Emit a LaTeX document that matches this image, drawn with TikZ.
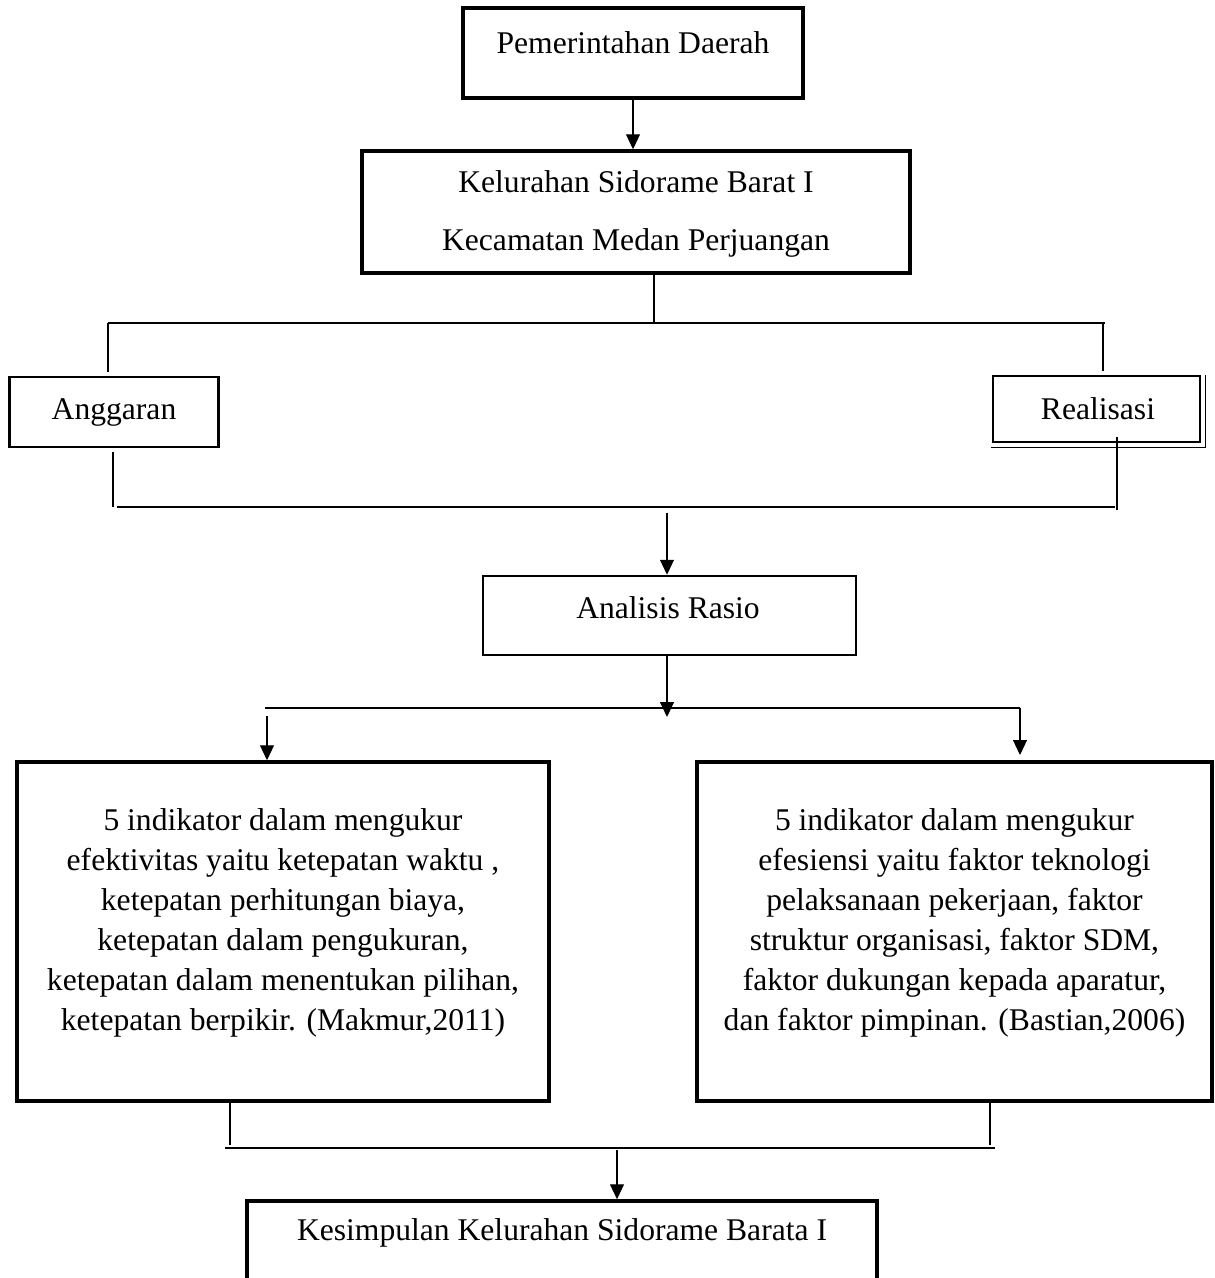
\documentclass[tikz,border=0pt]{standalone}
\usepackage{fontspec}
\setmainfont{Liberation Serif}
\usetikzlibrary{arrows.meta}
\begin{document}
\begin{tikzpicture}[x=1pt,y=-1pt,
  txt/.style={font=\fontsize{31.6}{35}\selectfont,inner sep=0pt,align=center},
  bigtxt/.style={font=\fontsize{31.6}{40}\selectfont,inner sep=0pt,align=center},
  thickbox/.style={draw,line width=3.5pt,inner sep=0pt},
  midbox/.style={draw,line width=2.5pt,inner sep=0pt},
  conn/.style={line width=1.1pt},
  arr/.style={line width=1.1pt,-{Triangle[width=14pt,length=15pt]}}]
\useasboundingbox (0,0) rectangle (1215,1278);
\clip (0,0) rectangle (1215,1278);
% boxes
\node[thickbox,minimum width=340pt,minimum height=90pt] (pd) at (633,53) {};
\node[txt] (pdt) at (633,43) {Pemerintahan Daerah};
\node[thickbox,minimum width=548pt,minimum height=122pt] (kel) at (636,212) {};
\node[txt] (kelt1) at (636,182) {Kelurahan Sidorame Barat I};
\node[txt] (kelt2) at (636,243) {Kecamatan Medan Perjuangan};
\node[midbox,minimum width=209pt,minimum height=70pt,txt] (ang) at (114,412) {Anggaran};
\node[midbox,minimum width=207pt,minimum height=66pt] (real) at (1096.5,409) {};
\node[txt] (realt) at (1098,409) {Realisasi};
\node[midbox,minimum width=373pt,minimum height=79pt] (ar) at (669.5,615.5) {};
\node[txt] (art) at (668,608) {Analisis Rasio};
\node[thickbox,minimum width=532pt,minimum height=339pt] (eff) at (283,931.5) {};
\node[bigtxt] (efft) at (283,923) {5 indikator dalam mengukur\\efektivitas yaitu ketepatan waktu ,\\ketepatan perhitungan biaya,\\ketepatan dalam pengukuran,\\ketepatan dalam menentukan pilihan,\\ketepatan berpikir. (Makmur,2011)};
\node[thickbox,minimum width=515pt,minimum height=339pt] (efs) at (954.5,931.5) {};
\node[bigtxt] (efst) at (954.5,923) {5 indikator dalam mengukur\\efesiensi yaitu faktor teknologi\\pelaksanaan pekerjaan, faktor\\struktur organisasi, faktor SDM,\\faktor dukungan kepada aparatur,\\dan faktor pimpinan. (Bastian,2006)};
\node[thickbox,minimum width=630pt,minimum height=110pt] (kes) at (562,1256) {};
\node[txt] (kest) at (562,1233) {Kesimpulan Kelurahan Sidorame Barata I};
% double edge of Realisasi
\draw[line width=1.5pt] ([xshift=-1pt,yshift=-4pt]real.south west) -- ([xshift=4pt,yshift=-4pt]real.south east) -- ([xshift=4pt]real.north east);
% coordinates
\coordinate (j1) at (654,323);
\coordinate (h1L) at (108,323);
\coordinate (h1R) at (1105,323);
\coordinate (h2L) at (113,507);
\coordinate (h2R) at (1117,507);
\coordinate (j2) at (667,507);
\coordinate (j3) at (667,717);
\coordinate (h3L) at (265,708);
\coordinate (h3R) at (1020,708);
\coordinate (a3L) at (267,716);
\coordinate (a3R) at (1020,755);
\coordinate (h4L) at (225,1148);
\coordinate (h4R) at (995,1148);
\coordinate (j4) at (617,1150);
% connectors
\draw[arr] (pd.south) -- (pd.south |- kel.north);
\draw[conn] (kel.south -| j1) -- (j1);
\draw[conn] (h1L) -- (h1R);
\draw[conn] (h1L) -- ([yshift=4pt]h1L |- ang.north);
\draw[conn] ([xshift=-2pt]h1R) -- ([xshift=-2pt,yshift=4pt]h1R |- real.north);
\draw[conn] ([yshift=-4pt]h2L |- ang.south) -- (h2L);
\draw[conn] ([xshift=4pt]h2L) -- ([xshift=-2pt]h2R);
\draw[conn] ([yshift=6pt]h2R |- real.south) -- ([yshift=-3pt]h2R);
\draw[arr] ([yshift=-6pt]j2) -- (j2 |- ar.north);
\draw[arr] (ar.south -| j3) -- (j3);
\draw[conn] (h3L) -- (h3R);
\draw[arr] (a3L) -- (a3L |- eff.north);
\draw[arr] (h3R) -- (a3R);
\draw[conn] (eff.south -| 230,0) -- (230,1145);
\draw[conn] (efs.south -| 990,0) -- (990,1145);
\draw[conn] (h4L) -- (h4R);
\draw[arr] (j4) -- (j4 |- kes.north);
\end{tikzpicture}
\end{document}
